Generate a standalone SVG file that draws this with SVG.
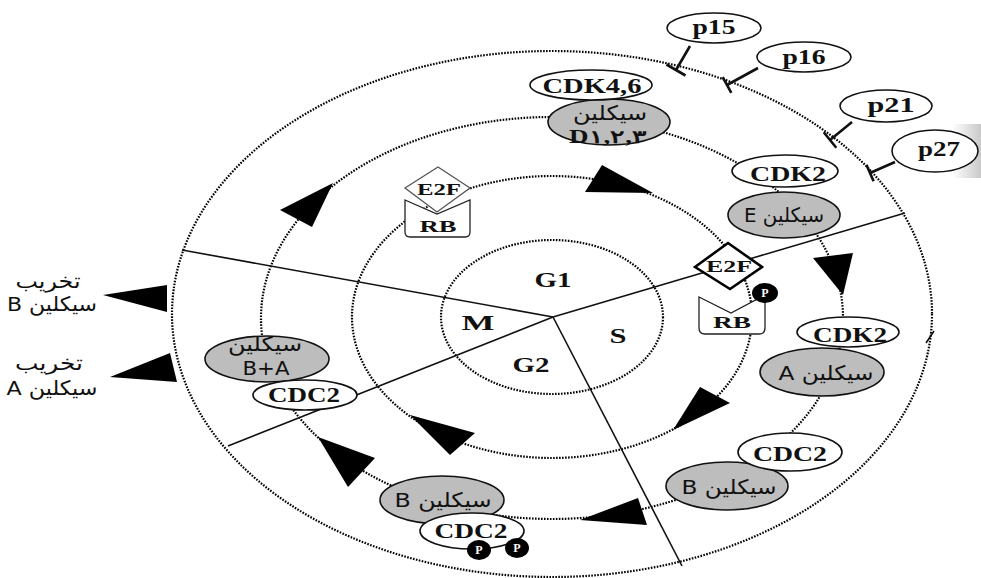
<svg xmlns="http://www.w3.org/2000/svg" width="981" height="578" viewBox="0 0 981 578">
  <style>
    .ring { fill: none; stroke: #000; stroke-width: 2.2; stroke-dasharray: 1.6 1.4; }
    .sep { fill: none; stroke: #111; stroke-width: 1.6; }
    .wnode { fill: #fff; stroke: #111; stroke-width: 1.6; }
    .gnode { fill: #bdbdbd; stroke: #111; stroke-width: 1.6; }
    .lbl { font-family: "Liberation Serif", "Times New Roman", serif; font-weight: bold; fill: #111; text-anchor: middle; }
    .ar { font-family: "DejaVu Sans", "Noto Sans", sans-serif; fill: #111; text-anchor: middle; font-size: 20px; }
    .arrow { fill: #000; }
    .inh { stroke: #111; stroke-width: 2.6; fill: none; }
    .phos { fill: #000; }
    .ptxt { font-family: "Liberation Serif", serif; font-weight: bold; fill: #fff; font-size: 12px; text-anchor: middle; }
  </style>
  <defs>
    <linearGradient id="edgeShade" x1="0" y1="0" x2="1" y2="0">
      <stop offset="0" stop-color="#ffffff"/>
      <stop offset="1" stop-color="#c9c9c9"/>
    </linearGradient>
  </defs>

  <rect x="0" y="0" width="981" height="578" fill="#fff"/>
  <rect x="952" y="124" width="29" height="54" fill="url(#edgeShade)"/>

  <!-- rings and phase separators -->
  <g id="connectors">
    <ellipse class="ring" cx="552" cy="314" rx="380" ry="263"/>
    <ellipse class="ring" cx="552" cy="318" rx="291" ry="201"/>
    <ellipse class="ring" cx="552" cy="317" rx="200" ry="141"/>
    <ellipse class="ring" cx="552" cy="317" rx="111" ry="77"/>
    <line class="sep" x1="553" y1="317" x2="182" y2="250"/>
    <line class="sep" x1="553" y1="317" x2="905" y2="213"/>
    <line class="sep" x1="553" y1="317" x2="228" y2="446"/>
    <line class="sep" x1="553" y1="317" x2="682" y2="566"/>
    <line class="sep" x1="926" y1="343" x2="934" y2="331"/>

    <!-- direction arrows on the rings -->
    <polygon class="arrow" points="602,165 585,192 653,193"/>
    <polygon class="arrow" points="700,387 730,403 673,430"/>
    <polygon class="arrow" points="410,415 475,433 450,455"/>
    <polygon class="arrow" points="333,183 280,210 312,227"/>
    <polygon class="arrow" points="813,258 853,253 843,295"/>
    <polygon class="arrow" points="580,520 638,498 647,525"/>
    <polygon class="arrow" points="318,437 375,458 348,487"/>
    <polygon class="arrow" points="103,295 167,285 167,312"/>
    <polygon class="arrow" points="110,377 170,353 177,382"/>

    <!-- inhibitor bars -->
    <path class="inh" d="M690,46 L676,70 M666.5,64.5 L685.5,75.5"/>
    <path class="inh" d="M758,68 L727,85 M722.7,77.1 L731.3,92.9"/>
    <path class="inh" d="M852,122 L830,140 M823.7,132.3 L836.3,147.7"/>
    <path class="inh" d="M895,162 L870,173 M866.4,164.8 L873.6,181.2"/>
  </g>

  <!-- phase labels -->
  <g id="phase-g1"><text class="lbl" x="553" y="287" font-size="21" textLength="37" lengthAdjust="spacingAndGlyphs">G1</text></g>
  <g id="phase-m"><text class="lbl" x="478" y="330" font-size="21" textLength="33" lengthAdjust="spacingAndGlyphs">M</text></g>
  <g id="phase-s"><text class="lbl" x="618" y="343" font-size="21" textLength="17" lengthAdjust="spacingAndGlyphs">S</text></g>
  <g id="phase-g2"><text class="lbl" x="531" y="372" font-size="21" textLength="37" lengthAdjust="spacingAndGlyphs">G2</text></g>

  <!-- inhibitors -->
  <g id="p15">
    <ellipse class="wnode" cx="714" cy="28" rx="47" ry="15"/>
    <text class="lbl" x="714" y="34" font-size="20" textLength="43" lengthAdjust="spacingAndGlyphs">p15</text>
  </g>
  <g id="p16">
    <ellipse class="wnode" cx="804" cy="57" rx="47" ry="15"/>
    <text class="lbl" x="804" y="64" font-size="20" textLength="43" lengthAdjust="spacingAndGlyphs">p16</text>
  </g>
  <g id="p21">
    <ellipse class="wnode" cx="886" cy="106" rx="46" ry="16"/>
    <text class="lbl" x="891" y="112" font-size="20" textLength="47" lengthAdjust="spacingAndGlyphs">p21</text>
  </g>
  <g id="p27">
    <ellipse class="wnode" cx="935" cy="151" rx="43" ry="21"/>
    <text class="lbl" x="939" y="156" font-size="20" textLength="42" lengthAdjust="spacingAndGlyphs">p27</text>
  </g>

  <!-- cyclin D / CDK4,6 -->
  <g id="cdk46-cyclinD">
    <ellipse class="gnode" cx="609" cy="122" rx="61" ry="23"/>
    <text class="ar" x="610" y="120" textLength="74" lengthAdjust="spacingAndGlyphs">سيكلين</text>
    <text class="lbl" x="608" y="143" font-size="18" font-family="Liberation Serif, DejaVu Sans, serif" textLength="78" lengthAdjust="spacingAndGlyphs">D١,٢,٣</text>
    <ellipse class="wnode" cx="591" cy="85" rx="61" ry="15"/>
    <text class="lbl" x="592" y="93" font-size="22" textLength="99" lengthAdjust="spacingAndGlyphs">CDK4,6</text>
  </g>

  <!-- cyclin E / CDK2 -->
  <g id="cdk2-cyclinE">
    <ellipse class="gnode" cx="784" cy="215" rx="56" ry="23"/>
    <text class="ar" x="784" y="222" direction="rtl" unicode-bidi="embed" textLength="80" lengthAdjust="spacingAndGlyphs">سيكلين E</text>
    <ellipse class="wnode" cx="785" cy="171" rx="53" ry="16"/>
    <text class="lbl" x="788" y="181" font-size="22" textLength="76" lengthAdjust="spacingAndGlyphs">CDK2</text>
  </g>

  <!-- cyclin A / CDK2 -->
  <g id="cdk2-cyclinA">
    <ellipse class="gnode" cx="822" cy="372" rx="62" ry="24"/>
    <text class="ar" x="826" y="380" direction="rtl" unicode-bidi="embed" textLength="95" lengthAdjust="spacingAndGlyphs">سيكلين A</text>
    <ellipse class="wnode" cx="848" cy="332" rx="51" ry="15"/>
    <text class="lbl" x="850" y="342" font-size="22" textLength="74" lengthAdjust="spacingAndGlyphs">CDK2</text>
  </g>

  <!-- cyclin B / CDC2 (S-G2) -->
  <g id="cdc2-cyclinB-right">
    <ellipse class="gnode" cx="727" cy="486" rx="61" ry="24"/>
    <text class="ar" x="729" y="494" direction="rtl" unicode-bidi="embed" textLength="95" lengthAdjust="spacingAndGlyphs">سيكلين B</text>
    <ellipse class="wnode" cx="790" cy="452" rx="52" ry="19"/>
    <text class="lbl" x="790" y="461" font-size="22" textLength="74" lengthAdjust="spacingAndGlyphs">CDC2</text>
  </g>

  <!-- cyclin B / phosphorylated CDC2 (G2) -->
  <g id="cdc2-cyclinB-bottom">
    <ellipse class="gnode" cx="442" cy="500" rx="62" ry="24"/>
    <text class="ar" x="443" y="507" direction="rtl" unicode-bidi="embed" textLength="97" lengthAdjust="spacingAndGlyphs">سيكلين B</text>
    <ellipse class="wnode" cx="472" cy="531" rx="52" ry="18"/>
    <text class="lbl" x="471" y="538" font-size="22" textLength="73" lengthAdjust="spacingAndGlyphs">CDC2</text>
    <ellipse class="phos" cx="479" cy="550" rx="12" ry="10"/>
    <text class="ptxt" x="479" y="554">P</text>
    <ellipse class="phos" cx="517" cy="548" rx="12" ry="10"/>
    <text class="ptxt" x="517" y="552">P</text>
  </g>

  <!-- cyclin B+A / CDC2 (M) -->
  <g id="cdc2-cyclinBA">
    <ellipse class="gnode" cx="267" cy="359" rx="62" ry="23"/>
    <text class="ar" x="265" y="351" font-size="18" textLength="74" lengthAdjust="spacingAndGlyphs">سيكلين</text>
    <text class="ar" x="266" y="375" font-family="Liberation Sans, Arial, sans-serif" font-size="15" textLength="47" lengthAdjust="spacingAndGlyphs">B+A</text>
    <ellipse class="wnode" cx="305" cy="395" rx="52" ry="15"/>
    <text class="lbl" x="304" y="402" font-size="22" textLength="72" lengthAdjust="spacingAndGlyphs">CDC2</text>
  </g>

  <!-- E2F bound to RB (G1) -->
  <g id="e2f-rb-bound">
    <path d="M405,200 L437,214 L470,200 L470,232 Q470,237 465,237 L410,237 Q405,237 405,232 Z" fill="#fff" stroke="#222" stroke-width="1.3"/>
    <polygon points="405,188 438,167 470,188 437,212" fill="#fff" stroke="#555" stroke-width="1.3"/>
    <text class="lbl" x="439" y="195" font-size="16" textLength="44" lengthAdjust="spacingAndGlyphs">E2F</text>
    <text class="lbl" x="438" y="232" font-size="17" textLength="37" lengthAdjust="spacingAndGlyphs">RB</text>
  </g>

  <!-- E2F released, phosphorylated RB -->
  <g id="e2f-free">
    <polygon points="695,267 728,243 762,267 730,289" fill="#fff" stroke="#000" stroke-width="2.6"/>
    <text class="lbl" x="729" y="272" font-size="16" textLength="46" lengthAdjust="spacingAndGlyphs">E2F</text>
  </g>
  <g id="rb-phospho">
    <path d="M699,297 L731,313 L765,295 L765,328 Q765,334 759,334 L705,334 Q699,334 699,328 Z" fill="#fff" stroke="#222" stroke-width="1.3"/>
    <text class="lbl" x="732" y="328" font-size="17" textLength="38" lengthAdjust="spacingAndGlyphs">RB</text>
    <ellipse class="phos" cx="765" cy="293" rx="13" ry="10"/>
    <text class="ptxt" x="765" y="297">P</text>
  </g>

  <!-- degradation labels -->
  <g id="degrade-B">
    <text class="ar" x="48" y="288" textLength="65" lengthAdjust="spacingAndGlyphs">تخريب</text>
    <text class="ar" x="52" y="311" direction="rtl" unicode-bidi="embed" textLength="90" lengthAdjust="spacingAndGlyphs">سيكلين B</text>
  </g>
  <g id="degrade-A">
    <text class="ar" x="49" y="370" textLength="68" lengthAdjust="spacingAndGlyphs">تخريب</text>
    <text class="ar" x="52" y="395" direction="rtl" unicode-bidi="embed" textLength="91" lengthAdjust="spacingAndGlyphs">سيكلين A</text>
  </g>
</svg>
